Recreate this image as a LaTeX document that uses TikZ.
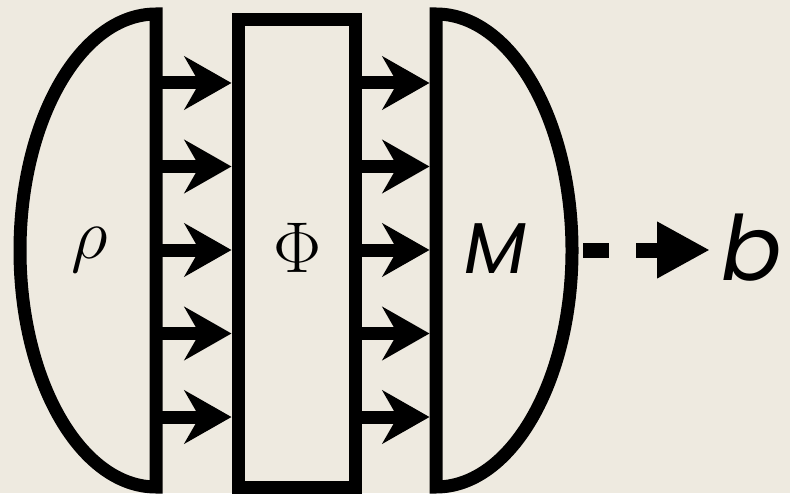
\RequirePackage{fix-cm}
\documentclass[tikz,border=0pt]{standalone}
\usepackage{fontspec}
\newfontfamily\geofont{Poppins}
\usetikzlibrary{arrows.meta}
\definecolor{paper}{RGB}{238,234,224}

\begin{document}
\begin{tikzpicture}[x=0.5pt, y=0.5pt, line width=6.5pt,
    flow/.style={-{Stealth[length=23.5pt, width=26.5pt, inset=7.5pt]}},
    readout/.style={line width=7.5pt, dash pattern=on 13pt off 13.5pt,
        -{Triangle[length=26.5pt, width=26.5pt]}},
    lab/.style={inner sep=0pt, font=\fontsize{36}{40}\selectfont}]

    % --- parameters ---
    \def\Rx{136}    % half-width of the two half discs
    \def\Ry{236.5}  % half-height of the two half discs
    \def\Top{479}   % top of the flat sides

    % --- background ---
    \fill[paper] (0,0) rectangle (790,493);
    \useasboundingbox (0,0) rectangle (790,493);

    % --- state (left half disc) ---
    \draw[line join=miter] (156,\Top) arc[start angle=90, end angle=270, x radius=\Rx, y radius=\Ry] -- cycle;
    \node[lab] (rho) at (90,243) {$\rho$};

    % --- channel (box) ---
    \node[draw, minimum width=58.5pt, minimum height=233.5pt, inner sep=0pt] (chan) at (296.5,239.5) {};
    \node[lab] (phi) at (298,245) {$\Phi$};

    % --- measurement (right half disc) ---
    \draw[line join=miter] (436,\Top) arc[start angle=90, end angle=-90, x radius=\Rx, y radius=\Ry] -- cycle;
    \node[lab, anchor=base] (meas) at (495,220) {\geofont\itshape M};

    % --- wires ---
    \foreach \i/\y in {1/410, 2/326.5, 3/243, 4/159.5, 5/76} {
        \coordinate (in\i) at (156,\y);
        \coordinate (out\i) at (429.5,\y);
        \draw[flow] (in\i) -- (in\i -| chan.west);
        \draw[flow] (in\i -| chan.east) -- (out\i);
    }

    % --- classical outcome ---
    \coordinate (mEdge) at (583,243);
    \node[lab, anchor=base east, font=\fontsize{45}{50}\selectfont] (bout) at (789,213) {\geofont\itshape b};
    \draw[readout] (mEdge) -- (710,243);

\end{tikzpicture}
\end{document}
